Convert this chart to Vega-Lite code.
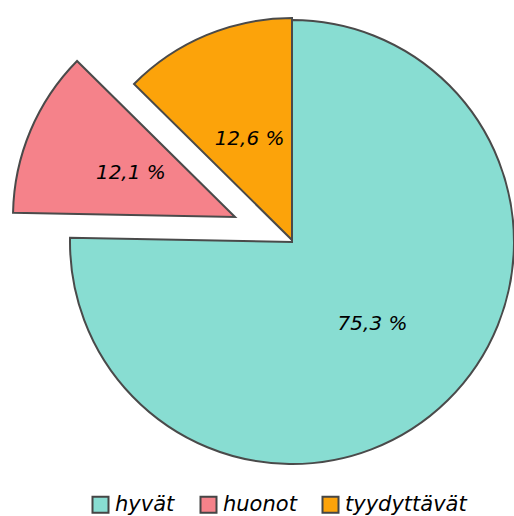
{
  "$schema": "https://vega.github.io/schema/vega-lite/v6.json",
  "width": 444,
  "height": 444,
  "padding": {"left": 70, "top": 20, "right": 0, "bottom": 52},
  "autosize": {"type": "none"},
  "background": "white",
  "view": {"stroke": null},
  "config": {
    "legend": {
      "labelFont": "DejaVu Sans",
      "labelFontStyle": "italic",
      "labelFontSize": 21,
      "labelColor": "black",
      "symbolType": "square",
      "symbolSize": 256,
      "symbolStrokeColor": "#454545",
      "symbolStrokeWidth": 2,
      "symbolOpacity": 1,
      "labelOffset": 4,
      "columnPadding": 21,
      "padding": 0
    }
  },
  "data": {
    "values": [
      {"category": "hyvät", "value": 75.3, "order": 1, "label": "75,3 %"},
      {"category": "huonot", "value": 12.1, "order": 2, "label": "12,1 %"},
      {"category": "tyydyttävät", "value": 12.6, "order": 3, "label": "12,6 %"}
    ]
  },
  "transform": [
    {"stack": "value", "groupby": [], "sort": [{"field": "order", "order": "ascending"}], "as": ["v0", "v1"]}
  ],
  "layer": [
    {
      "transform": [{"filter": "datum.category === 'hyvät'"}],
      "mark": {"type": "arc", "stroke": "#4a4a4a", "strokeWidth": 2, "opacity": 1},
      "encoding": {
        "theta": {"field": "v0", "type": "quantitative", "scale": {"domain": [0, 100]}},
        "theta2": {"field": "v1"},
        "color": {"field": "category", "type": "nominal", "scale": {"domain": ["hyvät", "huonot", "tyydyttävät"], "range": ["#88DDD2", "#F5828A", "#FCA30A"]}, "legend": {"title": null, "orient": "none", "direction": "horizontal", "legendX": 20, "legendY": 474}}
      }
    },
    {
      "transform": [{"filter": "datum.category === 'huonot'"}],
      "mark": {"type": "arc", "stroke": "#4a4a4a", "strokeWidth": 2, "opacity": 1, "xOffset": -57, "yOffset": -25},
      "encoding": {
        "theta": {"field": "v0", "type": "quantitative", "scale": {"domain": [0, 100]}},
        "theta2": {"field": "v1"},
        "color": {"field": "category", "type": "nominal", "scale": {"domain": ["hyvät", "huonot", "tyydyttävät"], "range": ["#88DDD2", "#F5828A", "#FCA30A"]}, "legend": {"title": null, "orient": "none", "direction": "horizontal", "legendX": 20, "legendY": 474}}
      }
    },
    {
      "transform": [{"filter": "datum.category === 'tyydyttävät'"}],
      "mark": {"type": "arc", "stroke": "#4a4a4a", "strokeWidth": 2, "opacity": 1, "yOffset": -2},
      "encoding": {
        "theta": {"field": "v0", "type": "quantitative", "scale": {"domain": [0, 100]}},
        "theta2": {"field": "v1"},
        "color": {"field": "category", "type": "nominal", "scale": {"domain": ["hyvät", "huonot", "tyydyttävät"], "range": ["#88DDD2", "#F5828A", "#FCA30A"]}, "legend": {"title": null, "orient": "none", "direction": "horizontal", "legendX": 20, "legendY": 474}}
      }
    },
    {
      "mark": {"type": "text", "radius": 115, "font": "DejaVu Sans", "fontStyle": "italic", "fontSize": 20, "color": "black"},
      "encoding": {
        "theta": {"field": "value", "type": "quantitative", "stack": true, "scale": {"domain": [0, 100]}},
        "order": {"field": "order", "type": "quantitative"},
        "text": {"condition": {"test": "datum.category === 'hyvät'", "field": "label"}, "value": ""}
      }
    },
    {
      "mark": {"type": "text", "radius": 113, "font": "DejaVu Sans", "fontStyle": "italic", "fontSize": 20, "color": "black", "xOffset": -57, "yOffset": -25},
      "encoding": {
        "theta": {"field": "value", "type": "quantitative", "stack": true, "scale": {"domain": [0, 100]}},
        "order": {"field": "order", "type": "quantitative"},
        "text": {"condition": {"test": "datum.category === 'huonot'", "field": "label"}, "value": ""}
      }
    },
    {
      "mark": {"type": "text", "radius": 110, "font": "DejaVu Sans", "fontStyle": "italic", "fontSize": 20, "color": "black", "yOffset": -2},
      "encoding": {
        "theta": {"field": "value", "type": "quantitative", "stack": true, "scale": {"domain": [0, 100]}},
        "order": {"field": "order", "type": "quantitative"},
        "text": {"condition": {"test": "datum.category === 'tyydyttävät'", "field": "label"}, "value": ""}
      }
    }
  ]
}
